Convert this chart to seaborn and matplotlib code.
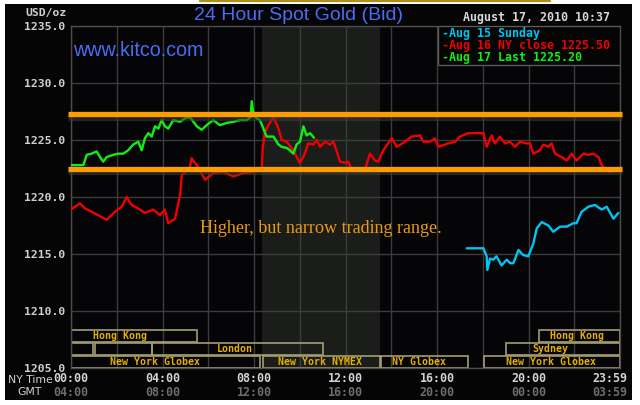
import matplotlib
matplotlib.use("Agg")
import matplotlib.pyplot as plt
import matplotlib.transforms as mtransforms
import matplotlib.patheffects as pe
from matplotlib.patches import Rectangle
from matplotlib.lines import Line2D
import seaborn as sns
import pandas as pd

# ---------------- data ----------------
red_hours = [0.0, 0.39, 0.61, 0.9, 1.19, 1.56, 1.92, 2.22, 2.43, 2.65, 2.94, 3.23, 3.6, 3.89, 4.1,
             4.25, 4.55, 4.77, 4.84, 5.0, 5.2, 5.27, 5.42, 5.5, 5.86, 6.22, 6.66, 7.1, 7.53, 7.97,
             8.34, 8.38, 8.48, 8.63, 8.85, 9.07, 9.21, 9.43, 9.72, 10.0, 10.16, 10.37, 10.6, 10.74,
             10.89, 11.1, 11.32, 11.47, 11.6, 11.76, 11.98, 12.12, 12.27, 12.56, 12.85, 13.07, 13.29,
             13.43, 13.65, 14.02, 14.24, 14.6, 14.89, 15.26, 15.4, 15.7, 15.91, 16.06, 16.49, 16.79,
             17.0, 17.37, 18.03, 18.1, 18.17, 18.39, 18.53, 18.75, 18.97, 19.19, 19.41, 19.63, 19.92,
             20.07, 20.21, 20.5, 20.65, 20.87, 21.01, 21.16, 21.45, 21.67, 21.89, 22.1, 22.4, 22.62,
             22.84, 23.06, 23.2, 23.34, 23.56, 23.7]
red_prices = [1218.9, 1219.45, 1219.0, 1218.7, 1218.4, 1218.0, 1218.7, 1219.15, 1220.0, 1219.3, 1219.0,
              1218.6, 1218.9, 1218.4, 1218.9, 1217.7, 1218.1, 1220.2, 1221.9, 1222.2, 1222.6, 1223.4,
              1223.0, 1222.8, 1221.5, 1222.1, 1222.2, 1221.8, 1222.1, 1222.2, 1222.4, 1224.3, 1225.7,
              1226.3, 1227.0, 1226.0, 1225.0, 1224.85, 1224.1, 1223.0, 1223.5, 1224.7, 1224.6, 1225.0,
              1224.4, 1224.85, 1224.6, 1224.85, 1224.1, 1223.1, 1223.0, 1223.1, 1222.4, 1222.4, 1222.4,
              1223.8, 1223.2, 1223.1, 1224.1, 1225.15, 1224.4, 1224.85, 1225.3, 1225.4, 1224.85,
              1224.85, 1225.15, 1224.4, 1224.7, 1224.85, 1225.3, 1225.6, 1225.6, 1225.0, 1224.4,
              1225.4, 1224.7, 1225.3, 1224.7, 1224.85, 1224.4, 1224.85, 1224.7, 1224.7, 1223.8,
              1224.1, 1224.6, 1224.4, 1224.7, 1223.8, 1223.5, 1223.2, 1223.8, 1223.2, 1223.8, 1223.7,
              1223.8, 1223.5, 1222.8, 1222.4, 1222.2, 1222.3]

green_hours = [0.0, 0.32, 0.54, 0.69, 0.9, 1.12, 1.27, 1.41, 1.56, 1.85, 2.07, 2.29, 2.5, 2.72, 2.94,
               3.09, 3.23, 3.38, 3.53, 3.67, 3.82, 3.96, 4.11, 4.25, 4.47, 4.77, 4.98, 5.2, 5.5, 5.71,
               5.93, 6.22, 6.51, 6.81, 7.1, 7.39, 7.68, 7.85, 7.9, 7.97, 8.12, 8.26, 8.41, 8.55, 8.85,
               9.07, 9.21, 9.43, 9.57, 9.72, 9.86, 10.01, 10.16, 10.3, 10.45, 10.62]
green_prices = [1222.8, 1222.8, 1222.8, 1223.7, 1223.8, 1224.0, 1223.5, 1223.1, 1223.5, 1223.7, 1223.8,
                1223.8, 1224.1, 1224.6, 1224.85, 1224.1, 1225.15, 1225.6, 1225.3, 1226.2, 1226.0,
                1226.75, 1226.2, 1226.0, 1226.75, 1226.6, 1226.9, 1227.0, 1226.2, 1225.9, 1226.3,
                1226.75, 1226.3, 1226.5, 1226.6, 1226.75, 1226.75, 1227.0, 1228.4, 1227.3, 1226.9,
                1226.75, 1226.0, 1225.3, 1225.3, 1224.6, 1224.4, 1224.3, 1224.1, 1223.8, 1224.6,
                1224.85, 1226.2, 1225.4, 1225.6, 1225.2]

cyan_hours = [17.3, 18.03, 18.17, 18.2, 18.32, 18.46, 18.6, 18.82, 19.05, 19.19, 19.34, 19.56, 19.77,
              19.99, 20.21, 20.36, 20.58, 20.87, 21.08, 21.38, 21.67, 21.96, 22.1, 22.32, 22.62, 22.9,
              23.2, 23.42, 23.71, 23.93]
cyan_prices = [1215.5, 1215.5, 1214.8, 1213.6, 1214.6, 1214.5, 1214.8, 1214.0, 1214.5, 1214.2, 1214.2,
               1215.35, 1214.9, 1214.8, 1215.9, 1217.25, 1217.8, 1217.5, 1216.95, 1217.4, 1217.4,
               1217.7, 1217.7, 1218.7, 1219.15, 1219.3, 1218.9, 1219.15, 1218.1, 1218.6]

series_names = ["Aug 15 Sunday", "Aug 16 NY close", "Aug 17 Last"]
series_colors = ["#00c4f2", "#f00000", "#10f010"]
legend_labels = ["-Aug 15 Sunday", "-Aug 16 NY close 1225.50", "-Aug 17 Last 1225.20"]

range_levels = [1227.25, 1222.5]
nymex_span = [8.33, 13.5]

y_ticks = [1205, 1210, 1215, 1220, 1225, 1230, 1235]
x_tick_hours = [0, 4, 8, 12, 16, 20, 24]
ny_time_labels = ["00:00", "04:00", "08:00", "12:00", "16:00", "20:00", "23:59"]
gmt_labels = ["04:00", "08:00", "12:00", "16:00", "20:00", "00:00", "03:59"]

# sessions: (row, start_hour, end_hour, label, label_hour)
sessions = [
    (0, 0.0, 5.5, "Hong Kong", 2.15),
    (0, 20.45, 24.0, "Hong Kong", 22.1),
    (1, 0.0, 0.95, "", 0),
    (1, 1.05, 3.55, "", 0),
    (1, 3.55, 11.0, "London", 7.17),
    (1, 19.0, 24.0, "Sydney", 20.94),
    (2, 0.0, 8.26, "New York Globex", 3.67),
    (2, 8.39, 13.5, "New York NYMEX", 10.9),
    (2, 13.55, 17.36, "NY Globex", 15.2),
    (2, 18.05, 24.0, "New York Globex", 21.0),
]
row_tops = [1208.33, 1207.15, 1206.05]
row_height = 1.02

# ---------------- style ----------------
sns.set_theme(style="dark", rc={"axes.facecolor": "#050507", "figure.facecolor": "white"})
plt.rcParams["font.family"] = ["DejaVu Sans"]
MONO = "DejaVu Sans Mono"

W, H = 640, 405
fig = plt.figure(figsize=(6.4, 4.05), dpi=100)
fig.patch.set_facecolor("white")
fig.patches.append(Rectangle((5 / W, 1 - 400 / H), 627 / W, 396 / H, transform=fig.transFigure,
                             facecolor="#050505", edgecolor="none", zorder=-10))
fig.add_artist(Line2D([200 / W, 550 / W], [1 - 0.8 / H] * 2, color="#b08d1a", lw=1.6,
                      transform=fig.transFigure))

ax = fig.add_axes([71 / W, 1 - 368 / H, 549 / W, 342 / H])
ax.set_facecolor("#050507")

df = pd.concat([
    pd.DataFrame({"hour": cyan_hours, "price": cyan_prices, "series": series_names[0]}),
    pd.DataFrame({"hour": red_hours, "price": red_prices, "series": series_names[1]}),
    pd.DataFrame({"hour": green_hours, "price": green_prices, "series": series_names[2]}),
], ignore_index=True)

ax.axvspan(nymex_span[0], nymex_span[1], color="#1a1d1a", zorder=0, lw=0)
sns.lineplot(data=df, x="hour", y="price", hue="series", hue_order=series_names,
             palette=dict(zip(series_names, series_colors)), estimator=None, sort=False,
             legend=False, linewidth=1.7, ax=ax, zorder=3)

ax.hlines(range_levels, -0.15, 24.1, colors="#ff9d00", linewidth=3.8, zorder=4, clip_on=False,
          path_effects=[pe.SimpleLineShadow(offset=(0, -2.5), shadow_color="#3a3a3a", alpha=0.6),
                        pe.Normal()])

ax.set_xlim(0, 24)
ax.set_ylim(1205, 1235)
ax.set_xticks(range(0, 25, 2))
ax.set_xticklabels([])
ax.set_yticks(y_ticks)
ax.set_yticklabels([f"{v:.1f}" for v in y_ticks], fontfamily=MONO, fontweight="bold",
                   fontsize=8.2, color="#cfcfcf")
ax.tick_params(axis="both", length=0, pad=4)
ax.set_xlabel("")
ax.set_ylabel("")
ax.grid(True, color="#3c3c3c", linewidth=1.0)
ax.set_axisbelow(True)
for s in ax.spines.values():
    s.set_color("#4c4c4c")
    s.set_linewidth(1.0)

# session boxes
for row, x0, x1, label, lx in sessions:
    yb = row_tops[row] - row_height
    ax.add_patch(Rectangle((x0, yb), x1 - x0, row_height, fill=False,
                           edgecolor="#a49e72", linewidth=1.2, zorder=2))
    if label:
        ax.text(lx, yb + row_height / 2, label, ha="center", va="center", fontsize=7.1,
                fontfamily=MONO, fontweight="bold", color="#e6b000", zorder=3)

# legend box
ax.add_patch(Rectangle(((438 - 71) / 549, (368 - 65) / 342), (620 - 438) / 549, (65 - 26) / 342,
                       transform=ax.transAxes, facecolor="#050505", edgecolor="#5a5a5a",
                       linewidth=1.0, zorder=6))
for i, (lab, col) in enumerate(zip(legend_labels, series_colors)):
    fig.text(442 / W, 1 - (33 + 12.3 * i) / H, lab, ha="left", va="center", fontsize=8.4,
             fontfamily=MONO, fontweight="bold", color=col, zorder=7)

# texts
fig.text(298 / W, 1 - 15 / H, "24 Hour Spot Gold (Bid)", ha="center", va="center",
         fontsize=14, fontfamily="Liberation Sans", color="#4a6cf2")
fig.text(73 / W, 1 - 51 / H, "www.kitco.com", ha="left", va="center",
         fontsize=14.2, fontfamily="Liberation Sans", color="#4a6cf2", zorder=8)
fig.text(67 / W, 1 - 13 / H, "USD/oz", ha="right", va="center", fontsize=8.2,
         fontfamily=MONO, fontweight="bold", color="#cfcfcf")
fig.text(610 / W, 1 - 18 / H, "August 17, 2010 10:37", ha="right", va="center", fontsize=8.4,
         fontfamily=MONO, fontweight="bold", color="#d8d8d8")
fig.text(200 / W, 1 - 228 / H, "Higher, but narrow trading range.", ha="left", va="center",
         fontsize=13.1, fontfamily="Liberation Serif", color="#e99a12", zorder=8)

# bottom time axis labels
trans = mtransforms.blended_transform_factory(ax.transData, fig.transFigure)
for hx, ny, gm in zip(x_tick_hours, ny_time_labels, gmt_labels):
    off = -0.45 if hx == 24 else 0
    ax.text(hx + off, 1 - 379 / H, ny, transform=trans, ha="center", va="center", fontsize=8.4,
            fontfamily=MONO, fontweight="bold", color="#d4d4d4", clip_on=False)
    ax.text(hx + off, 1 - 393 / H, gm, transform=trans, ha="center", va="center", fontsize=8.4,
            fontfamily=MONO, fontweight="bold", color="#6e6e6e", clip_on=False)
fig.text(8 / W, 1 - 380 / H, "NY Time", ha="left", va="center", fontsize=7.8, color="#d0d0d0")
fig.text(17 / W, 1 - 392 / H, "GMT", ha="left", va="center", fontsize=7.8, color="#d0d0d0")

fig.savefig("out.png", dpi=100, facecolor="white")
